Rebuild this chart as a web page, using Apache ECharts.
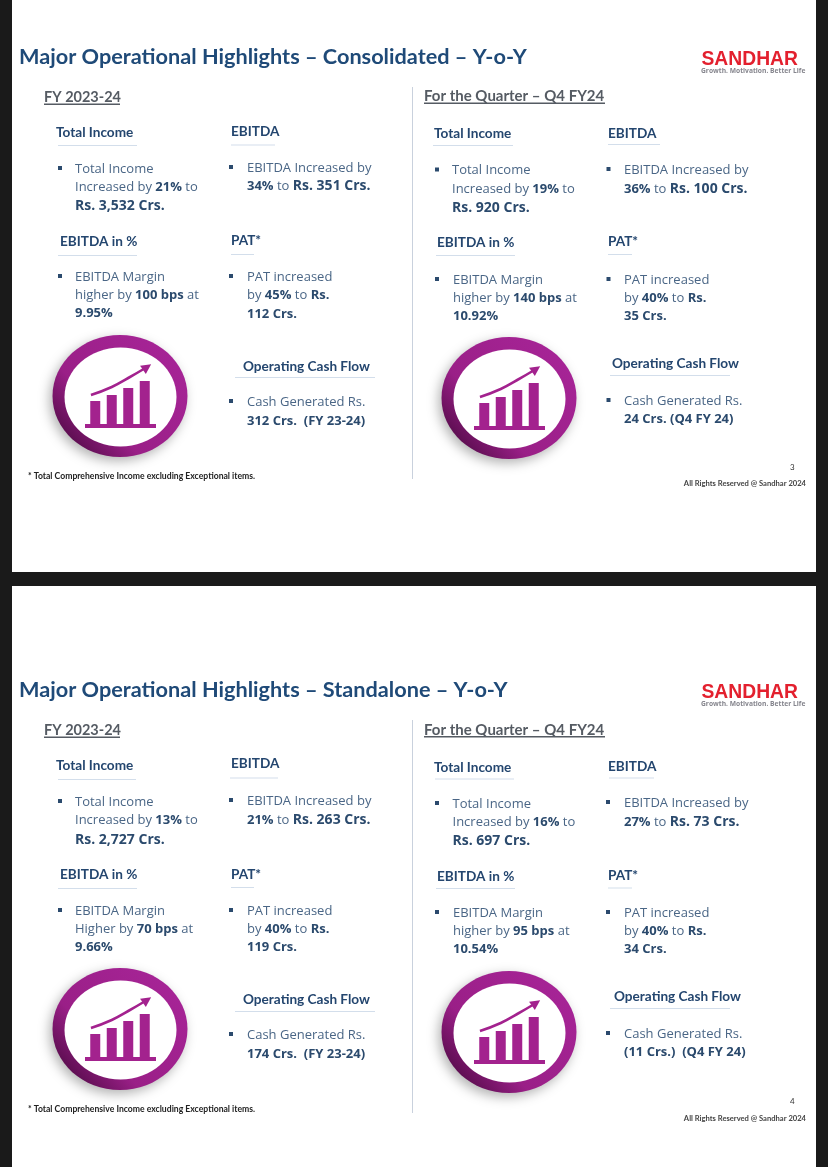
<!DOCTYPE html>
<html>
<head>
<meta charset="utf-8">
<style>html,body{margin:0;padding:0;background:#1a1a1a}#main{width:828px;height:1167px}</style>
<script src="https://cdn.jsdelivr.net/npm/echarts@6/dist/echarts.min.js"></script>
</head>
<body>
<div id="main"></div>
<script>
// text, {b|..} bold, {c|..} bold and larger
const slideTitles = ['Major Operational Highlights – Consolidated – Y-o-Y', 'Major Operational Highlights – Standalone – Y-o-Y']
const periodLabels = ['FY 2023-24', 'For the Quarter – Q4 FY24']
const headings = ['Total Income', 'EBITDA', 'EBITDA in %', 'PAT*', 'Operating Cash Flow']
const footnote = '* Total Comprehensive Income excluding Exceptional items.'
const pageNumbers = ['3', '4']
const rightsText = 'All Rights Reserved @ Sandhar 2024'
const logoName = 'SANDHAR'
const logoTag = 'Growth. Motivation. Better Life'

const consolidatedFy = [
  ['Total Income', 'Increased by {b|21%} to', '{c|Rs. 3,532 Crs.}'],
  ['EBITDA Increased by', '{b|34%} to {c|Rs. 351 Crs.}'],
  ['EBITDA Margin', 'higher by {b|100 bps} at', '{b|9.95%}'],
  ['PAT increased', 'by {b|45%} to {b|Rs.}', '{b|112 Crs.}'],
  ['Cash Generated Rs.', '{b|312 Crs.  (FY 23-24)}'],
]
const consolidatedQ4 = [
  ['Total Income', 'Increased by {b|19%} to', '{c|Rs. 920 Crs.}'],
  ['EBITDA Increased by', '{b|36%} to {c|Rs. 100 Crs.}'],
  ['EBITDA Margin', 'higher by {b|140 bps} at', '{b|10.92%}'],
  ['PAT increased', 'by {b|40%} to {b|Rs.}', '{b|35 Crs.}'],
  ['Cash Generated Rs.', '{b|24 Crs. (Q4 FY 24)}'],
]
const standaloneFy = [
  ['Total Income', 'Increased by {b|13%} to', '{c|Rs. 2,727 Crs.}'],
  ['EBITDA Increased by', '{b|21%} to {c|Rs. 263 Crs.}'],
  ['EBITDA Margin', 'Higher by {b|70 bps} at', '{b|9.66%}'],
  ['PAT increased', 'by {b|40%} to {b|Rs.}', '{b|119 Crs.}'],
  ['Cash Generated Rs.', '{b|174 Crs.  (FY 23-24)}'],
]
const standaloneQ4 = [
  ['Total Income', 'Increased by {b|16%} to', '{c|Rs. 697 Crs.}'],
  ['EBITDA Increased by', '{b|27%} to {c|Rs. 73 Crs.}'],
  ['EBITDA Margin', 'higher by {b|95 bps} at', '{b|10.54%}'],
  ['PAT increased', 'by {b|40%} to {b|Rs.}', '{b|34 Crs.}'],
  ['Cash Generated Rs.', '{b|(11 Crs.)  (Q4 FY 24)}'],
]
const panelTexts = [consolidatedFy, consolidatedQ4, standaloneFy, standaloneQ4]

// the little growth icon, heights
const iconBars = [25, 31, 38, 45]
const iconTrendX = [0.74, 2, 3, 4.14]
const iconTrendY = [31, 39, 48, 59]

// ---- layout, per panel ----
const INK = '#4a6686'
const INK_BOLD = '#2b4a6d'
const HEAD = '#24466f'
const PURPLE = '#a3228e'

const panelLayouts = [
  {
    period: [44, 97.5], icon: [120, 396],
    heads: [[56, 132.5, 58, 79, 145], [231, 131.5, 231, 44, 144.5], [60, 242, 58, 79, 255], [231, 241, 231, 23, 254], [243, 367, 235, 140, 377]],
    bodies: [[60, 75, [169, 187, 206]], [231, 247, [168, 186]], [60, 75, [277, 295, 313]], [231, 247, [277, 295, 314]], [231, 247, [402, 421]]],
  },
  {
    period: [424, 96.5], icon: [509, 398],
    heads: [[434, 134, 433, 80, 145], [608, 134, 608, 52, 144], [437, 243, 436, 79, 255], [608, 242, 608, 24, 254], [612, 364, 610, 120, 375]],
    bodies: [[437, 452, [170.5, 189, 208]], [608.5, 624, [170, 189]], [437, 453, [280, 298, 316]], [608.5, 624, [280, 298, 316]], [608.5, 624, [401, 419]]],
  },
  {
    period: [44, 730.5], icon: [120, 1029],
    heads: [[56, 766, 58, 78, 779], [231, 764, 230, 48, 777.5], [60, 875, 58, 79, 888], [231, 875, 231, 23, 887], [243, 1000, 235, 140, 1011]],
    bodies: [[60, 75, [802, 820, 840]], [231, 247, [801, 820]], [60, 75, [911, 929, 947]], [231, 247, [911, 929, 947]], [231, 247, [1035, 1054]]],
  },
  {
    period: [424, 730], icon: [509, 1032],
    heads: [[434, 768, 435, 79, 778.5], [608, 767, 609, 45, 777.5], [437, 877, 436, 79, 888], [608, 876, 608, 24, 887.5], [614, 997, 610, 120, 1008]],
    bodies: [[437, 452.5, [804, 822, 841.5]], [608, 624, [803, 822.5]], [437, 453, [913, 931, 949]], [608, 624, [913, 931, 949]], [608, 624, [1034, 1052]]],
  },
]

const slideLayouts = [
  { top: 0, height: 572, title: 57, logo: 60, divider: [87, 479], note: 476, page: 467, rights: 484 },
  { top: 586, height: 581, title: 690, logo: 693, divider: [720, 1113], note: 1109, page: 1101, rights: 1119 },
]

const g = []
const label = (x, y, text, font, fill, extra) => g.push({
  type: 'text', x, y, z: 5,
  style: Object.assign({ text, font, fill, textVerticalAlign: 'middle' }, extra),
})

slideLayouts.forEach((s, i) => {
  g.push({ type: 'rect', z: 1, shape: { x: 12, y: s.top, width: 804, height: s.height }, style: { fill: '#fff' } })
  label(19, s.title, slideTitles[i], 'bold 21.7px Lato', '#1f4a78')
  label(701.5, s.logo, logoName, 'bold 19.3px "Liberation Sans"', '#e3202e')
  label(701, s.logo + 11.5, logoTag, 'bold 6.7px "Open Sans"', '#85858d')
  g.push({ type: 'rect', z: 2, shape: { x: 412, y: s.divider[0], width: 1, height: s.divider[1] - s.divider[0] }, style: { fill: '#c9d1dd' } })
  label(28, s.note, footnote, 'bold 8.65px Lato', '#222')
  label(790, s.page, pageNumbers[i], '8px Lato', '#333')
  label(806, s.rights, rightsText, 'bold 7.6px Lato', '#444', { textAlign: 'right' })
})

const grids = []
const xAxes = []
const yAxes = []
const series = []

panelLayouts.forEach((p, i) => {
  // period label with its underline
  label(p.period[0], p.period[1], periodLabels[i % 2], (i % 2 ? 'bold 15px' : 'bold 14.5px') + ' Lato', '#555b63')
  g.push({ type: 'rect', z: 5, shape: { x: p.period[0], y: p.period[1] + 6, width: i % 2 ? 181 : 76, height: 1.4 }, style: { fill: '#555b63' } })

  headings.forEach((h, k) => {
    const [x, y, ux, uw, uy] = p.heads[k]
    label(x, y, h, 'bold 13.6px Lato', HEAD)
    g.push({ type: 'rect', z: 5, shape: { x: ux, y: uy, width: uw, height: 1 }, style: { fill: '#d3deeb' } })
  })

  panelTexts[i].forEach((lines, k) => {
    const [bx, tx, ys] = p.bodies[k]
    g.push({ type: 'rect', z: 5, shape: { x: bx - 2, y: ys[0] - 3, width: 4, height: 4 }, style: { fill: INK_BOLD } })
    lines.forEach((line, n) => {
      g.push({
        type: 'text', x: tx, y: ys[n], z: 5,
        style: {
          text: line, font: '13px "Open Sans"', fill: INK, textVerticalAlign: 'middle',
          rich: {
            b: { font: 'bold 13px "Open Sans"', fill: INK_BOLD },
            c: { font: 'bold 14px "Open Sans"', fill: INK_BOLD },
          },
        },
      })
    })
  })

  // ring behind the icon
  const [cx, cy] = p.icon
  g.push({
    type: 'ellipse', z: 2,
    shape: { cx, cy, rx: 67.5, ry: 61 },
    style: {
      fill: { type: 'linear', x: 0, y: 1, x2: 1, y2: 0, colorStops: [{ offset: 0.08, color: '#4e0a44' }, { offset: 0.36, color: '#9a1f87' }, { offset: 1, color: '#a9259a' }] },
      shadowBlur: 12, shadowColor: 'rgba(0,0,0,0.3)', shadowOffsetX: -3, shadowOffsetY: 4,
    },
  })
  g.push({ type: 'ellipse', z: 3, shape: { cx: cx + 0.5, cy: cy + 1, rx: 56, ry: 49.5 }, style: { fill: '#fff' } })
  g.push({ type: 'rect', z: 4, shape: { x: cx - 35, y: cy + 28, width: 71, height: 4 }, style: { fill: PURPLE } })

  grids.push({ left: cx - 33, top: cy - 31, width: 66, height: 61 })
  xAxes.push({ type: 'value', gridIndex: i, min: 0.5, max: 4.5, show: false })
  yAxes.push({ type: 'value', gridIndex: i, min: 0, max: 61, show: false })
  series.push({
    type: 'bar', xAxisIndex: i, yAxisIndex: i, barWidth: 10, z: 6,
    data: iconBars.map((v, n) => [n + 1, v]),
    itemStyle: { color: PURPLE }, silent: true, animation: false,
  })
  series.push({
    type: 'line', xAxisIndex: i, yAxisIndex: i, smooth: true, z: 6, silent: true, animation: false,
    lineStyle: { color: PURPLE, width: 2.6 }, showSymbol: true, symbol: 'none',
    data: iconTrendY.map((v, n) => n === iconTrendY.length - 1
      ? { value: [iconTrendX[n], v], symbol: 'triangle', symbolSize: 10, symbolRotate: -55, itemStyle: { color: PURPLE } }
      : [iconTrendX[n], v]),
  })
})

const chart = echarts.init(document.getElementById('main'), null, { renderer: 'canvas' })
chart.setOption({
  animation: false,
  backgroundColor: '#1a1a1a',
  tooltip: { show: false },
  graphic: { elements: g },
  grid: grids,
  xAxis: xAxes,
  yAxis: yAxes,
  series,
})
</script>
</body>
</html>
